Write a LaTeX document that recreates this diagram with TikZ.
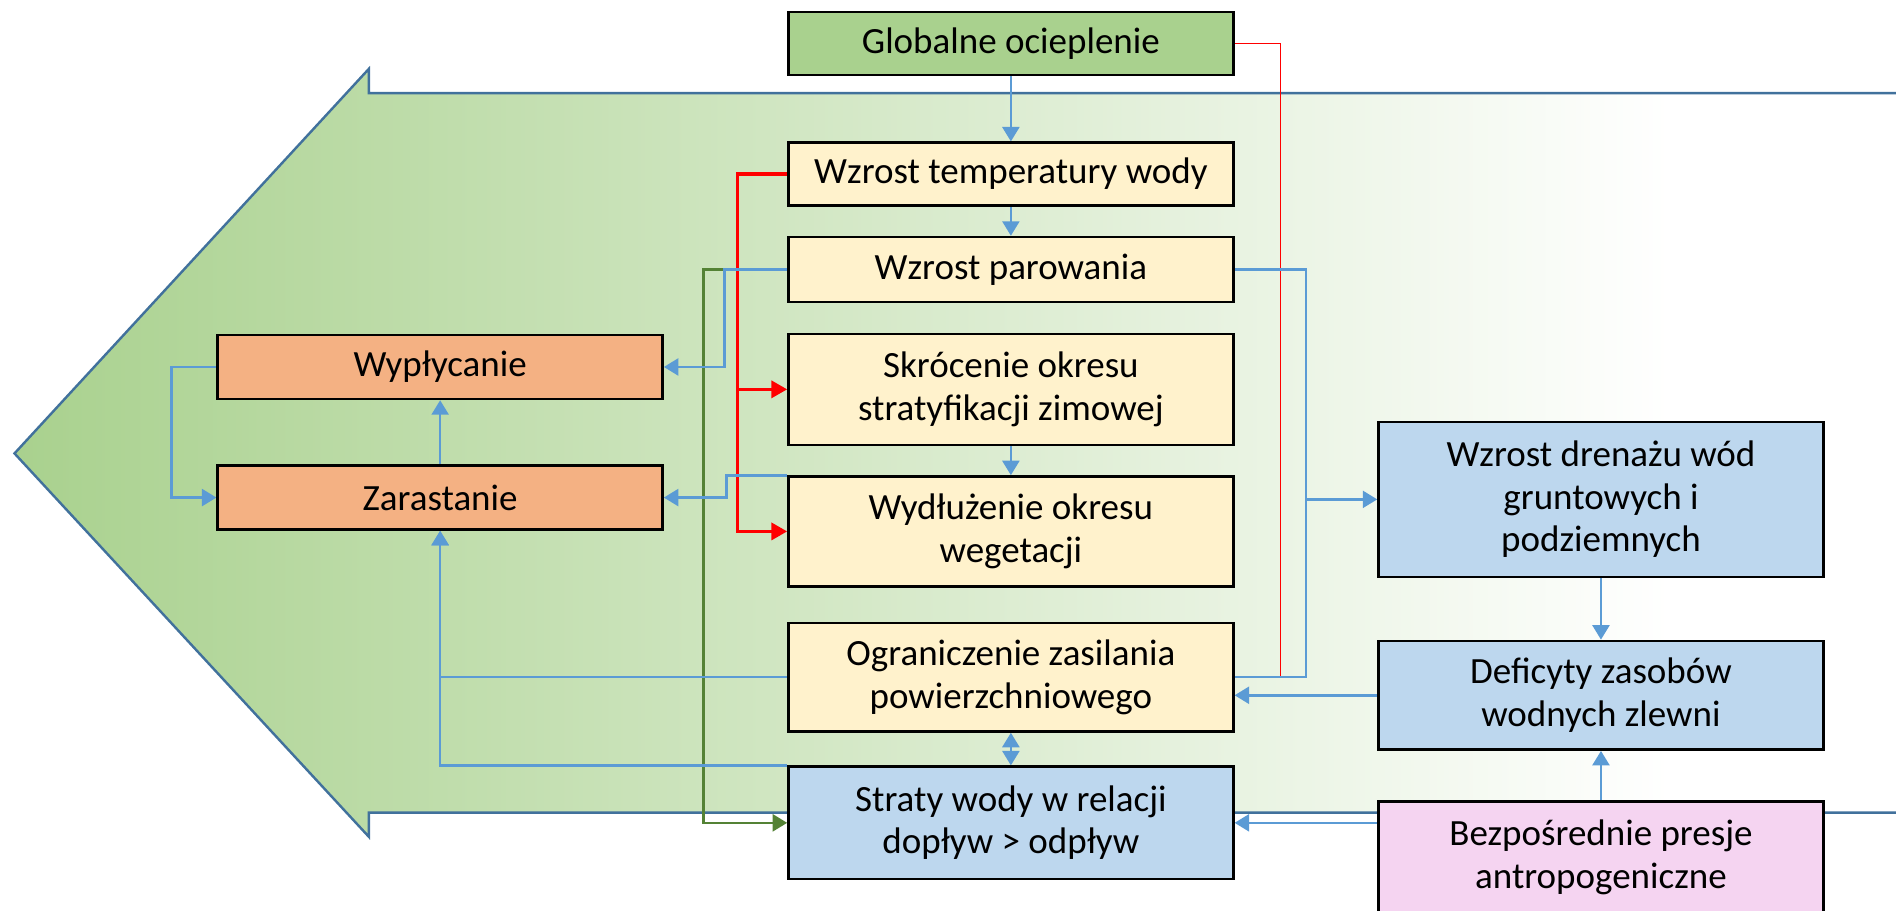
\documentclass[tikz,border=0pt]{standalone}
\usepackage{fontspec}
\setmainfont{Carlito}
\usetikzlibrary{positioning,arrows.meta,backgrounds,calc}

\definecolor{arrowgreen}{HTML}{A9D18E}
\definecolor{arrowline}{HTML}{41719C}
\definecolor{warmfill}{HTML}{A9D18E}
\definecolor{lakefill}{HTML}{FFF2CC}
\definecolor{shorefill}{HTML}{F4B183}
\definecolor{waterfill}{HTML}{BDD7EE}
\definecolor{humanfill}{HTML}{F5D4F1}
\definecolor{flowblue}{HTML}{5B9BD5}
\definecolor{vegline}{HTML}{548235}
\pgfdeclarehorizontalshading{arrowfade}{100bp}{color(0bp)=(arrowgreen); color(25bp)=(arrowgreen); color(69bp)=(white); color(100bp)=(white)}

\begin{document}
\begin{tikzpicture}[
      x=0.5pt,y=0.5pt,
      every node/.style={font=\fontsize{15.3}{17.6}\selectfont},
      box/.style={draw=black,line width=1pt,minimum width=184pt,align=center,inner sep=2pt},
      warm/.style={box,fill=warmfill,minimum height=26pt},
      lake/.style={box,fill=lakefill},
      shore/.style={box,fill=shorefill,minimum height=26.5pt},
      water/.style={box,fill=waterfill},
      human/.style={box,fill=humanfill},
      ln/.style={draw=flowblue,line width=1.1pt},
      fl/.style={ln,-{Triangle[length=6pt,width=7pt]}},
      hot/.style={draw=red,line width=1.4pt,-{Triangle[length=6.5pt,width=7pt]}},
      hotline/.style={draw=red,line width=0.5pt},
      veg/.style={draw=vegline,line width=1.1pt,-{Triangle[length=6pt,width=7pt]}}
    ]
    \useasboundingbox (0,0) rectangle (1568,753);
    % top of the chain
    \node[warm] (glob) at (836,717) {Globalne ocieplenie};
    \node[lake,minimum height=26pt] (temp) at (836,609) {Wzrost temperatury wody};
    \node[lake,minimum height=27pt] (parow) at (836,530) {Wzrost parowania};
    \node[lake,minimum height=46pt] (skroc) at (836,431) {Skrócenie okresu\\stratyfikacji zimowej};
    \node[lake,minimum height=45.5pt] (wydl) at (836,313.5) {Wydłużenie okresu\\wegetacji};
    \node[lake,minimum height=45pt] (ogran) at (836,193) {Ograniczenie zasilania\\powierzchniowego};
    \node[water,minimum height=46.5pt] (straty) at (836,72.5) {Straty wody w relacji\\dopływ > odpływ};
    % lake effects
    \node[shore] (wypl) at (364,449.5) {Wypłycanie};
    \node[shore] (zarast) at (364,341.5) {Zarastanie};
    % catchment
    \node[water,minimum height=64pt] (drenaz) at (1324,340) {Wzrost drenażu wód\\gruntowych i\\podziemnych};
    \node[water,minimum height=45pt] (defic) at (1324,178) {Deficyty zasobów\\wodnych zlewni};
    \node[human,minimum height=46pt] (bezp) at (1324,44) {Bezpośrednie presje\\antropogeniczne};
    % big arrow and connectors (drawn behind)
    \begin{scope}[on background layer]
      \shade[shading=arrowfade] (1568,676) -- (305,676) -- (305,696) -- (12,378) -- (305,61)
        -- (305,81) -- (1568,81) -- cycle;
      \draw[arrowline,line width=1pt,line join=miter] (1568,676) -- (305,676) -- (305,696) -- (12,378)
        -- (305,61) -- (305,81) -- (1568,81);
      \coordinate (rj) at ($(temp.west)+(-41,0)$);
      \draw[hotline] (glob.east) -- ++(38,0) |- (ogran.east);
      \draw[hot] (temp.west) -- (rj) |- (skroc.west);
      \draw[hot] (rj) |- (wydl.west);
      \draw[veg] (parow.west) -- ++(-69,0) |- (straty.west);
      \foreach \a/\b in {glob.south/temp.north,temp.south/parow.north,skroc.south/wydl.north,
        zarast.north/wypl.south,drenaz.south/defic.north,bezp.north/defic.south}{\draw[fl] (\a) -- (\b);}
      \draw[fl] (parow.west) -- ++(-52,0) |- (wypl.east);
      \draw[fl] (wydl.north west) -- ++(-50,0) |- (zarast.east);
      \draw[fl] (wypl.west) -- ++(-37,0) |- (zarast.west);
      \draw[fl] (ogran.west) -| (zarast.south);
      \draw[fl] (straty.north west) -| (zarast.south);
      \draw[ln] (parow.east) -- ++(59,0) |- (ogran.east);
      \draw[fl] (parow.east) -- ++(59,0) |- (drenaz.west);
      \draw[fl] (defic.west) -- (defic.west -| ogran.east);
      \draw[fl] (bezp.west |- straty.east) -- (straty.east);
      \draw[fl,{Triangle[length=6pt,width=7pt]}-{Triangle[length=6pt,width=7pt]}] (ogran.south) -- (straty.north);
    \end{scope}
  \end{tikzpicture}
\end{document}
